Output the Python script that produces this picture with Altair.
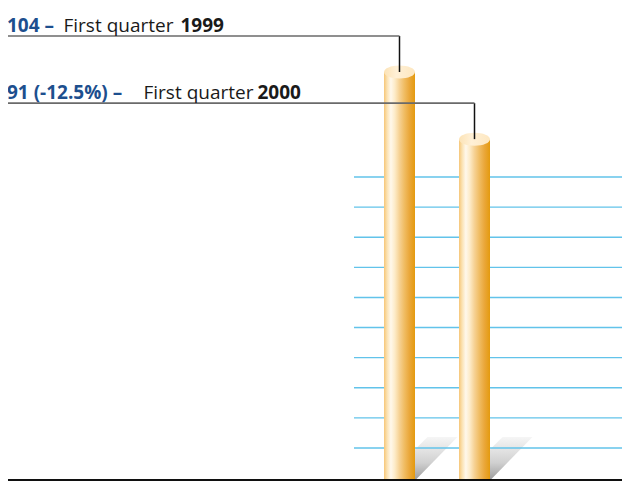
import altair as alt
import pandas as pd

# ---- data -------------------------------------------------------------
positions = [0, 1]
values = [104, 91]
value_labels = ["104 –", "91 (-12.5%) –"]
quarters = ["First quarter", "First quarter"]
years = ["1999", "2000"]
grid_levels = list(range(1, 11))
AXIS_MIN = 25
AXIS_MAX = 104

df = pd.DataFrame({"pos": positions, "value": values, "lead": value_labels,
                   "quarter": quarters, "year": years})
grid_df = pd.DataFrame({"level": grid_levels})

# ---- scales & styles -----------------------------------------------------
W, H = 614, 473
xs = alt.Scale(domain=[0, 1], range=[391.5, 466.5], padding=0, zero=False, nice=False)
ys = alt.Scale(domain=[AXIS_MIN, AXIS_MAX], range=[472, 64], zero=False, nice=False)
gs = alt.Scale(domain=[1, 10], range=[440, 169], zero=False, nice=False)

FONT = "Open Sans"
FS = 19
BLUE = "#1d4f8e"

body_grad = alt.Gradient(
    gradient="linear", x1=0, x2=1, y1=0, y2=0,
    stops=[alt.GradientStop(color="#f6c678", offset=0),
           alt.GradientStop(color="#fbe2b2", offset=0.1),
           alt.GradientStop(color="#fff8ec", offset=0.22),
           alt.GradientStop(color="#fdebc8", offset=0.35),
           alt.GradientStop(color="#f6d193", offset=0.5),
           alt.GradientStop(color="#f0bc62", offset=0.66),
           alt.GradientStop(color="#eaa73a", offset=0.82),
           alt.GradientStop(color="#e49a0e", offset=1)])
top_grad = alt.Gradient(
    gradient="linear", x1=0, x2=1, y1=0, y2=0,
    stops=[alt.GradientStop(color="#fce3b6", offset=0),
           alt.GradientStop(color="#fff0d6", offset=0.4),
           alt.GradientStop(color="#fde7c0", offset=1)])
shadow_grad = alt.Gradient(
    gradient="linear", x1=0, x2=0, y1=0, y2=1,
    stops=[alt.GradientStop(color="#f6f6f6", offset=0),
           alt.GradientStop(color="#d0d0d0", offset=0.6),
           alt.GradientStop(color="#9c9c9c", offset=1)])

ELLIPSE = "M -15.5 0 A 15.5 6.5 0 1 0 15.5 0 A 15.5 6.5 0 1 0 -15.5 0 Z"
SHADOW = "M -15 0 L 16 0 L 58 -43 L 28 -43 Z"

X = alt.X("pos:Q", scale=xs, axis=None)
Y = alt.Y("value:Q", scale=ys, axis=None)
base = alt.Chart(df)

shadow = base.mark_point(shape=SHADOW, size=4, filled=True, fill=shadow_grad,
                         opacity=1, strokeWidth=0).encode(
    x=X, y=alt.YDatum(AXIS_MIN, scale=ys, axis=None))

grid = alt.Chart(grid_df).mark_rule(color="#62c3ea", strokeWidth=1.4).encode(
    x=alt.value(346), x2=alt.value("width"),
    y=alt.Y("level:Q", scale=gs, axis=None))

bars = base.mark_bar(size=31, fill=body_grad).encode(
    x=X, y=Y, y2=alt.Y2Datum(AXIS_MIN))

tops = base.mark_point(shape=ELLIPSE, size=4, filled=True, fill=top_grad,
                       opacity=1, strokeWidth=0).encode(x=X, y=Y)

lead_v = base.mark_rule(color="#111111", strokeWidth=1.5, y2Offset=-36).encode(
    x=X, y=Y, y2=alt.Y2("value:Q"))
lead_h = base.mark_rule(color="#6a6a6a", strokeWidth=1.6, yOffset=-36).encode(
    x=X, x2=alt.value(0), y=Y)

text_x = {0: (-1, 55.5, 172.5), 1: (-1, 135.5, 249.5)}
texts = []
for p in positions:
    sub = base.transform_filter(alt.datum.pos == p)
    x0, x1, x2 = text_x[p]
    common = dict(align="left", baseline="alphabetic", font=FONT, fontSize=FS,
                  yOffset=-40.5)
    texts.append(sub.mark_text(fontWeight="bold", color=BLUE, **common).encode(
        x=alt.value(x0), y=Y, text="lead:N"))
    texts.append(sub.mark_text(fontWeight="normal", color="#1a1a1a", **common).encode(
        x=alt.value(x1), y=Y, text="quarter:N"))
    texts.append(sub.mark_text(fontWeight="bold", color="#1a1a1a", **common).encode(
        x=alt.value(x2), y=Y, text="year:N"))

baseline = base.mark_rule(color="#000000", strokeWidth=1.6).encode(
    x=alt.value(0), x2=alt.value("width"),
    y=alt.YDatum(AXIS_MIN, scale=ys, axis=None))

chart = alt.layer(shadow, grid, bars, tops, lead_v, lead_h, *texts, baseline).resolve_scale(
    y="independent"
).properties(
    width=W, height=H, autosize=alt.AutoSizeParams(type="none"), padding=0,
    background="white"
).configure_view(stroke=None)

chart.save("out.html", embed_options={"renderer": "svg", "actions": False})
